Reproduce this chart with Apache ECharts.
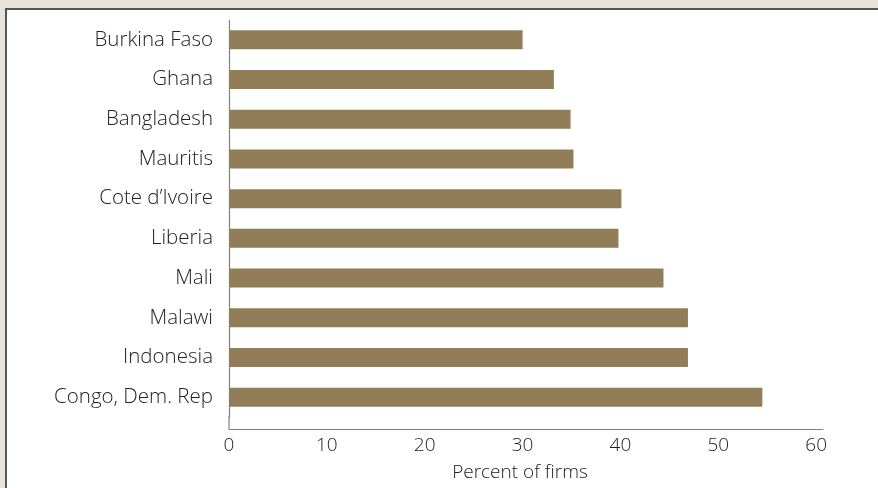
<!DOCTYPE html>
<html>
<head>
<meta charset="utf-8">
<script src="https://cdn.jsdelivr.net/npm/echarts@6/dist/echarts.min.js"></script>
<style>
html,body{margin:0;padding:0;background:#e9e2d8;}
#c{width:878px;height:488px;}
</style>
</head>
<body>
<div id="c"></div>
<script>
const categories = ["Burkina Faso","Ghana","Bangladesh","Mauritis","Cote d\u2019Ivoire","Liberia","Mali","Malawi","Indonesia","Congo, Dem. Rep"];
const values = [30.0, 33.2, 34.9, 35.2, 40.1, 39.8, 44.4, 46.9, 46.9, 54.5];
const xTicks = [0, 10, 20, 30, 40, 50, 60];
const axisName = "Percent of firms";

const chart = echarts.init(document.getElementById('c'), null, {renderer: 'canvas'});
const font = '"Open Sans", "Noto Sans", sans-serif';
chart.setOption({
  backgroundColor: '#e9e2d8',
  animation: false,
  graphic: [
    {type: 'rect', z: -10, shape: {x: 6, y: 9, width: 900, height: 500},
     style: {fill: '#ffffff', stroke: '#555555', lineWidth: 2}},
    {type: 'line', z: 10, shape: {x1: 229, y1: 416, x2: 229, y2: 429},
     style: {stroke: '#808080', lineWidth: 1.2}}
  ],
  grid: {left: 229, top: 20, width: 594, height: 397, containLabel: false},
  xAxis: {
    type: 'value', min: 0, max: 60.7, interval: 10, offset: 12,
    axisLine: {show: true, lineStyle: {color: '#808080', width: 1.2}},
    axisTick: {show: false},
    splitLine: {show: false},
    axisLabel: {
      color: '#222', fontFamily: font, fontWeight: 300, fontSize: 19, margin: 7,
      formatter: v => xTicks.indexOf(v) >= 0 ? String(v) : ''
    },
    name: axisName, nameLocation: 'middle', nameGap: 34,
    nameTextStyle: {color: '#222', fontFamily: font, fontWeight: 300, fontSize: 19, padding: [0, 12, 0, 0]}
  },
  yAxis: {
    type: 'category', data: categories, inverse: true,
    axisLine: {show: true, lineStyle: {color: '#808080', width: 1.2}},
    axisTick: {show: false},
    axisLabel: {color: '#222', fontFamily: font, fontWeight: 300, fontSize: 20.5, margin: 16}
  },
  series: [{
    type: 'bar', data: values, barWidth: 19,
    itemStyle: {color: '#917e58'}
  }]
});
</script>
</body>
</html>
